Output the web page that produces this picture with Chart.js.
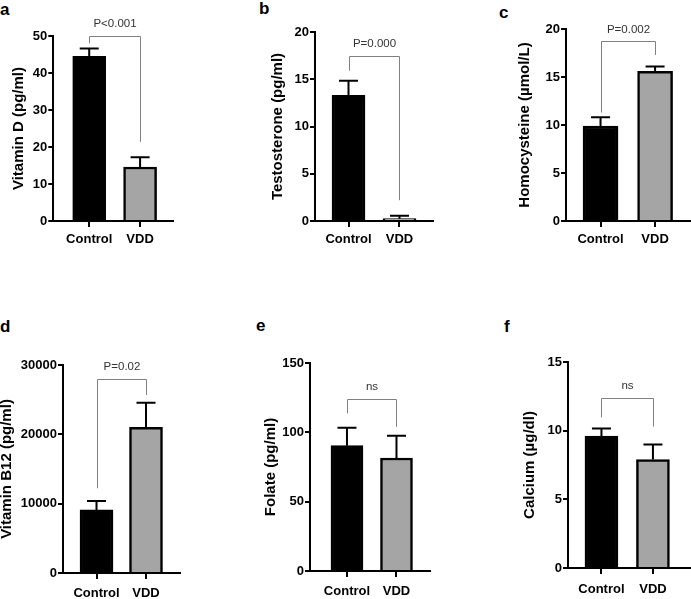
<!DOCTYPE html>
<html><head><meta charset="utf-8">
<script src="https://cdn.jsdelivr.net/npm/chart.js@4.4.0/dist/chart.umd.min.js"></script>
<style>
html,body{margin:0;padding:0;background:#fff;overflow:hidden;width:691px;height:599px;position:relative;}
canvas{position:absolute;}
.lbl{position:absolute;font:bold 17px "Liberation Sans",Arial,sans-serif;line-height:17px;color:#000;}
</style></head><body>
<div class="lbl" style="left:0px;top:1px">a</div>
<div class="lbl" style="left:259px;top:0px">b</div>
<div class="lbl" style="left:499px;top:4px">c</div>
<div class="lbl" style="left:0px;top:318px">d</div>
<div class="lbl" style="left:256px;top:317px">e</div>
<div class="lbl" style="left:504px;top:318px">f</div>
<script>
// ---- data ----
const categories = ['Control', 'VDD'];
const yTitles = ['Vitamin D (pg/ml)', 'Testosterone (pg/ml)', 'Homocysteine (µmol/L)', 'Vitamin B12 (pg/ml)', 'Folate (pg/ml)', 'Calcium (µg/dl)'];
const controlMeans = [44.5, 13.3, 9.9, 9100, 90.4, 9.6];
const controlErrors = [2.1, 1.55, 0.9, 1300, 12.9, 0.55];
const vddMeans = [14.6, 0.25, 15.6, 21000, 81.5, 7.9];
const vddErrors = [2.6, 0.3, 0.5, 3550, 16, 1.1];
const yMaxValues = [50, 20, 20, 30000, 150, 15];
const yStepValues = [10, 5, 5, 10000, 50, 5];
const pLabels = ['P<0.001', 'P=0.000', 'P=0.002', 'P=0.02', 'ns', 'ns'];
const bracketTops = [50.1, 17.5, 18.7, 27980, 123.8, 12.35];
const bracketLeftEnds = [48.0, 15.9, 11.3, 12220, 113.7, 10.97];
const bracketRightEnds = [21.4, 2.2, 17.3, 25670, 104, 10.3];
const pLabelLevels = [53.2, 18.8, 19.9, 29760, 132.5, 13.25];

// ---- layout (pixels) ----
const layouts = [
  {L:53,  T:36,  R:173, B:221, tx:18.7, xMin:-0.706, xMax:1.647, bw:33, lp:5},
  {L:315, T:32,  R:433, B:221, tx:278,  xMin:-0.657, xMax:1.657, bw:33, lp:5},
  {L:566, T:29,  R:690, B:221, tx:525,  xMin:-0.633, xMax:1.64,  bw:35, lp:5},
  {L:63,  T:365, R:180, B:573, tx:7,    xMin:-0.677, xMax:1.687, bw:33, lp:7},
  {L:310, T:363, R:430, B:571, tx:271,  xMin:-0.747, xMax:1.677, bw:32, lp:7},
  {L:568, T:362, R:690, B:568, tx:530,  xMin:-0.65,  xMax:1.72,  bw:33, lp:8}
];
const FONT = '"Liberation Sans", Arial, sans-serif';
const PAD_TOP = 22, PAD_RIGHT = 2, HX = 32, TITLE_SIZE = 15;

const annotPlugin = {
  id: 'annot',
  afterDatasetsDraw(chart) {
    const i = chart.options.plugins.annot.index;
    const ctx = chart.ctx, xs = chart.scales.x, ys = chart.scales.y;
    const means = [controlMeans[i], vddMeans[i]];
    const errs = [controlErrors[i], vddErrors[i]];
    ctx.save();
    ctx.strokeStyle = '#000';
    ctx.lineWidth = 2;
    for (let k = 0; k < 2; k++) {
      const x = xs.getPixelForValue(k);
      const y0 = ys.getPixelForValue(means[k]);
      const y1 = ys.getPixelForValue(means[k] + errs[k]);
      ctx.beginPath();
      ctx.moveTo(x, y0); ctx.lineTo(x, y1);
      ctx.moveTo(x - 9.5, y1); ctx.lineTo(x + 9.5, y1);
      ctx.stroke();
    }
    const xa = Math.round(xs.getPixelForValue(0)) + 0.5;
    const xb = Math.round(xs.getPixelForValue(1)) + 0.5;
    const yt = Math.round(ys.getPixelForValue(bracketTops[i])) + 0.5;
    ctx.strokeStyle = '#808080';
    ctx.lineWidth = 1;
    ctx.beginPath();
    ctx.moveTo(xa, ys.getPixelForValue(bracketLeftEnds[i]));
    ctx.lineTo(xa, yt);
    ctx.lineTo(xb, yt);
    ctx.lineTo(xb, ys.getPixelForValue(bracketRightEnds[i]));
    ctx.stroke();
    ctx.fillStyle = '#333';
    ctx.font = '11.5px ' + FONT;
    ctx.textAlign = 'center';
    ctx.textBaseline = 'middle';
    ctx.fillText(pLabels[i], (xa + xb) / 2, ys.getPixelForValue(pLabelLevels[i]));
    ctx.restore();
  }
};

layouts.forEach((lay, i) => {
  const Wy = lay.L - (lay.tx - TITLE_SIZE * 1.2 / 2);
  const cv = document.createElement('canvas');
  const w = Math.round(Wy + (lay.R - lay.L) + PAD_RIGHT);
  const h = Math.round(PAD_TOP + (lay.B - lay.T) + HX);
  cv.width = w; cv.height = h;
  cv.style.left = (lay.L - Wy) + 'px';
  cv.style.top = (lay.T - PAD_TOP) + 'px';
  cv.style.width = w + 'px'; cv.style.height = h + 'px';
  document.body.appendChild(cv);
  new Chart(cv, {
    type: 'bar',
    data: {
      datasets: [{
        data: [{x: 0, y: controlMeans[i]}, {x: 1, y: vddMeans[i]}],
        backgroundColor: ['#000000', '#a5a5a5'],
        borderColor: '#000000',
        borderWidth: 2.5,
        borderSkipped: 'bottom',
        barThickness: lay.bw
      }]
    },
    options: {
      responsive: false,
      animation: false,
      devicePixelRatio: 1,
      layout: {padding: {top: PAD_TOP, right: PAD_RIGHT, left: 0, bottom: 0}},
      plugins: {legend: {display: false}, tooltip: {enabled: false}, annot: {index: i}},
      scales: {
        x: {
          type: 'linear',
          offset: false,
          min: lay.xMin, max: lay.xMax,
          afterBuildTicks: s => { s.ticks = [{value: 0}, {value: 1}]; },
          afterFit: s => { s.height = HX; },
          ticks: {
            callback: (v, idx) => categories[idx],
            font: {family: FONT, size: 13, weight: 'bold'},
            color: '#000', padding: lay.lp, maxRotation: 0, autoSkip: false
          },
          grid: {display: true, offset: false, drawOnChartArea: false, drawTicks: true, tickLength: 6, color: '#000', lineWidth: 2},
          border: {display: true, color: '#000', width: 2}
        },
        y: {
          min: 0, max: yMaxValues[i],
          afterFit: s => { s.width = Wy; },
          ticks: {
            stepSize: yStepValues[i],
            callback: v => String(v),
            font: {family: FONT, size: 13, weight: 'bold'},
            color: '#000', padding: 1
          },
          grid: {display: true, drawOnChartArea: false, drawTicks: true, tickLength: 5, color: '#000', lineWidth: 2},
          border: {display: true, color: '#000', width: 2},
          title: {
            display: true, text: yTitles[i], color: '#000',
            font: {family: FONT, size: TITLE_SIZE, weight: 'bold'},
            padding: {top: 0, bottom: 0}
          }
        }
      }
    },
    plugins: [annotPlugin]
  });
});
</script>
</body></html>
